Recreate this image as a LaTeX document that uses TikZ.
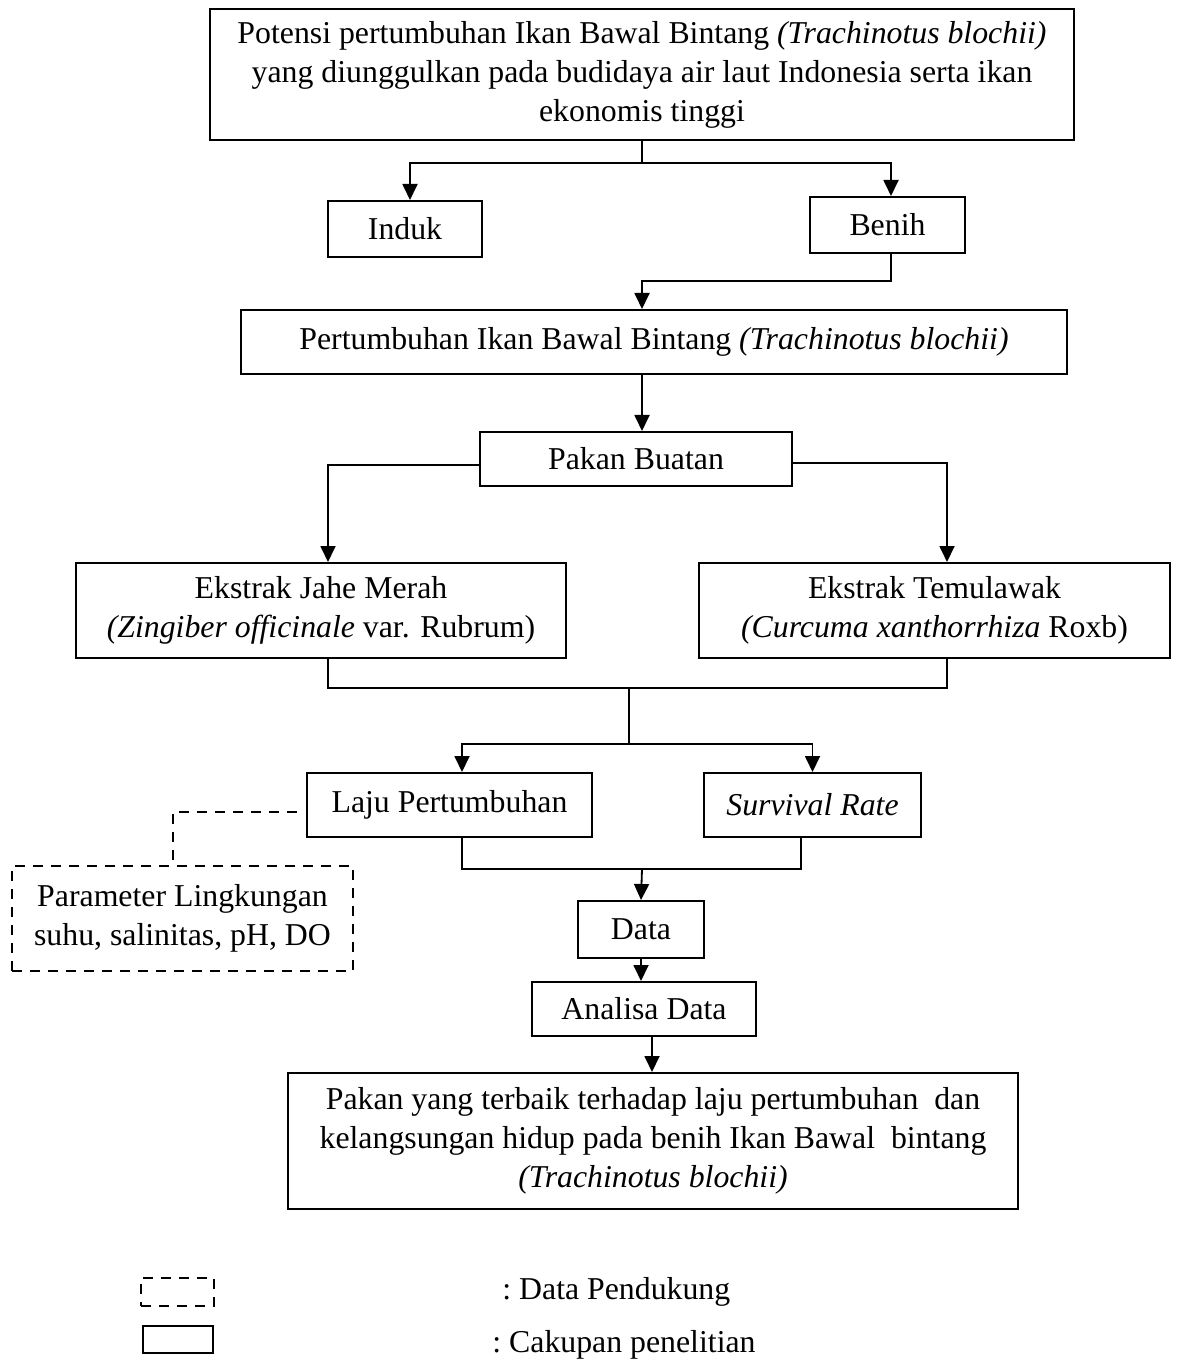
\documentclass[tikz,border=0pt]{standalone}
\usepackage{fontspec}
\setmainfont{Liberation Serif}
\usetikzlibrary{arrows.meta}

\tikzset{
  kotak/.style={draw, line width=1pt, align=center, inner sep=0pt,
    font=\fontsize{15.9}{19.5}\selectfont},
  putus/.style={kotak, dash pattern=on 5pt off 4pt},
  teks/.style={inner sep=0pt, font=\fontsize{15.9}{19.5}\selectfont},
  garis/.style={line width=0.9pt},
  panah/.style={garis, -{Triangle[length=8pt,width=7.5pt]}},
}

\begin{document}
\begin{tikzpicture}[x=0.5pt, y=-0.5pt]
	\useasboundingbox (0,0) rectangle (1179,1363);
	%kotak utama
	\node[kotak, minimum width=432pt, minimum height=65.5pt] (potensi) at (642,74.5)
		{Potensi pertumbuhan Ikan Bawal Bintang \textit{(Trachinotus blochii)}\\
		 yang diunggulkan pada budidaya air laut Indonesia serta ikan\\
		 ekonomis tinggi};
	\node[kotak, minimum width=77pt, minimum height=28pt] (induk) at (405,229) {Induk};
	\node[kotak, minimum width=77.5pt, minimum height=28pt] (benih) at (887.5,225) {Benih};
	\node[kotak, minimum width=413pt, minimum height=32pt] (pertumbuhan) at (654,342)
		{Pertumbuhan Ikan Bawal Bintang \textit{(Trachinotus blochii)}};
	\node[kotak, minimum width=156pt, minimum height=27pt] (pakan) at (636,459) {Pakan Buatan};
	\node[kotak, minimum width=245pt, minimum height=47.5pt] (jahe) at (321,610.5)
		{Ekstrak Jahe Merah\\ \textit{(Zingiber officinale} var. Rubrum)};
	\node[kotak, minimum width=235.5pt, minimum height=47.5pt] (temu) at (934.5,610.5)
		{Ekstrak Temulawak\\ \textit{(Curcuma xanthorrhiza} Roxb)};
	\node[kotak, minimum width=142.5pt, minimum height=32pt] (laju) at (449.5,805) {Laju Pertumbuhan};
	\node[kotak, minimum width=108.5pt, minimum height=32pt] (survival) at (812.5,805) {\textit{Survival Rate}};
	\node[putus, minimum width=170.5pt, minimum height=52.5pt] (parameter) at (182.5,918.5)
		{Parameter Lingkungan\\ suhu, salinitas, pH, DO};
	\node[kotak, minimum width=63pt, minimum height=28.5pt] (data) at (641,929.5) {Data};
	\node[kotak, minimum width=112pt, minimum height=27pt] (analisa) at (644,1009) {Analisa Data};
	\node[kotak, minimum width=365pt, minimum height=68pt] (hasil) at (653,1141)
		{Pakan yang terbaik terhadap laju pertumbuhan~ dan\\
		 kelangsungan hidup pada benih Ikan Bawal~ bintang\\
		 \textit{(Trachinotus blochii)}};
	%titik bantu
	\coordinate (bagi1) at (642,163);
	\coordinate (bagi2) at (642,281);
	\coordinate (kiri) at (328,465);
	\coordinate (kanan) at (947,463);
	\coordinate (gabung1) at (629,688);
	\coordinate (bagi3) at (629,744);
	\coordinate (gabung2) at (642,869);
	\coordinate (sudut) at (173,812);
	%panah
	\draw[garis] (potensi.south -| bagi1) -- (bagi1);
	\draw[panah] (bagi1) -| ([xshift=2.5pt]induk.north);
	\draw[panah] (bagi1) -| ([xshift=1.75pt]benih.north);
	\draw[panah] ([xshift=1.75pt]benih.south) |- (bagi2) -- (bagi2 |- pertumbuhan.north);
	\draw[panah] (pertumbuhan.south -| bagi2) -- (pakan.north -| bagi2);
	\draw[panah] ([yshift=-3pt]pakan.west) -- (kiri) -- (kiri |- jahe.north);
	\draw[panah] ([yshift=-2pt]pakan.east) -- (kanan) -- (kanan |- temu.north);
	\draw[garis] (jahe.south -| kiri) |- (gabung1) -| (temu.south -| kanan);
	\draw[garis] (gabung1) -- (bagi3);
	\draw[panah] (bagi3) -| ([xshift=6.25pt]laju.north);
	\draw[panah] (bagi3) -| (survival.north);
	\draw[garis] ([xshift=6.25pt]laju.south) |- (gabung2) -| ([xshift=-5.75pt]survival.south);
	\draw[panah] (gabung2) -- (data.north);
	\draw[panah] (data.south) -- (data.south |- analisa.north);
	\draw[panah] ([xshift=4pt]analisa.south) -- ([xshift=4pt]analisa.south |- hasil.north);
	%garis putus-putus
	\draw[garis, dash pattern=on 5pt off 4pt] ([xshift=-4.5pt,yshift=-3.5pt]laju.west) -- (sudut) -- (sudut |- parameter.north);
	%keterangan
	\node[putus, minimum width=36.5pt, minimum height=14pt] (lgputus) at (177.5,1292) {};
	\node[kotak, minimum width=35pt, minimum height=13.5pt] (lgkotak) at (178,1339.5) {};
	\node[teks, anchor=west] (ketputus) at (502,1292) {:\ Data Pendukung};
	\node[teks, anchor=west] (ketkotak) at (492,1345) {:\ Cakupan penelitian};
\end{tikzpicture}
\end{document}
